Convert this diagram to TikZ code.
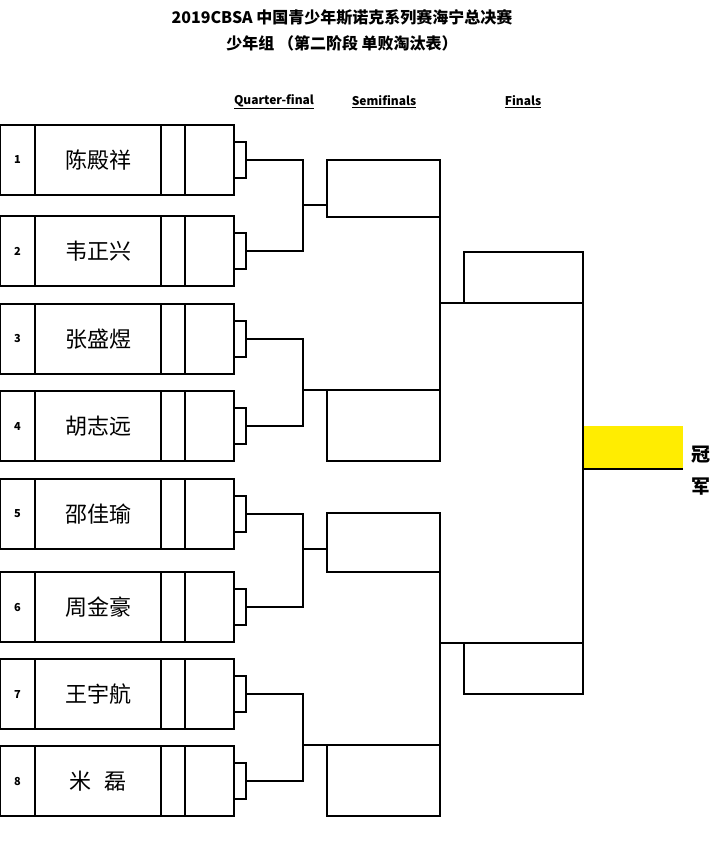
\documentclass[tikz,border=0pt]{standalone}
\usepackage{fontspec}
\setmainfont{Noto Sans CJK SC}
\begin{document}
\begin{tikzpicture}[x=1pt,y=-1pt,line width=1.2pt,
  ttl/.style={font=\bfseries\fontsize{16}{18}\selectfont},
  hdr/.style={font=\bfseries\fontsize{12}{13}\selectfont},
  nm/.style={font=\fontsize{22}{24}\selectfont},
  num/.style={font=\bfseries\fontsize{11}{13}\selectfont}]
\useasboundingbox (0,0) rectangle (720,847);
\node[ttl] (t1) at (342,17) {2019CBSA 中国青少年斯诺克系列赛海宁总决赛};
\node[ttl] (t2) at (342,43) {少年组 （第二阶段 单败淘汰表）};
\node[hdr] (h1) at (274,102) {\underline{Quarter-final}};
\node[hdr] (h2) at (384,102) {\underline{Semifinals}};
\node[hdr] (h3) at (523,102) {\underline{Finals}};
\foreach \i/\t/\b/\n in {1/125/195/陈殿祥,2/216/286/韦正兴,3/304/374/张盛煜,4/391/461/胡志远,5/479/549/邵佳瑜,6/572/642/周金豪,7/659/729/王宇航,8/746/816/米\hspace{0.6em}磊}{
  \draw (0,\t) rectangle (234,\b);
  \draw (35,\t) -- (35,\b) (161,\t) -- (161,\b) (185,\t) -- (185,\b);
  \node[num] (n\i) at (17.5,{(\t+\b)/2}) {\i};
  \node[nm] (p\i) at (98,{(\t+\b)/2}) {\n};
  \draw (234,{(\t+\b)/2-18}) rectangle (246,{(\t+\b)/2+18});
  \coordinate (c\i) at (246,{(\t+\b)/2});
}
% quarter-final connectors
\draw (c1) -| (303,205) |- (c2);
\draw (303,205) -- (327,205);
\draw (c3) -| (303,390) |- (c4);
\draw (303,390) -- (327,390);
\draw (c5) -| (303,549) |- (c6);
\draw (303,549) -- (327,549);
\draw (c7) -| (303,745) |- (c8);
\draw (303,745) -- (327,745);
% semifinal boxes
\draw (327,160) rectangle (440,217);
\draw (327,390) rectangle (440,461);
\draw (327,513) rectangle (440,572);
\draw (327,745) rectangle (440,816);
\draw (440,160) -- (440,461);
\draw (440,513) -- (440,816);
% finals
\draw (440,303) -- (583,303);
\draw (464,303) |- (583,252) -- (583,694) -| (464,643);
\draw (440,643) -- (583,643);
\fill[yellow!95!orange] (584,426) rectangle (683,469);
\draw (583,469) -- (683,469);
\node[font=\bfseries\fontsize{19}{20}\selectfont] (w1) at (701,455) {冠};
\node[font=\bfseries\fontsize{19}{20}\selectfont] (w2) at (701,487) {军};
\end{tikzpicture}
\end{document}
